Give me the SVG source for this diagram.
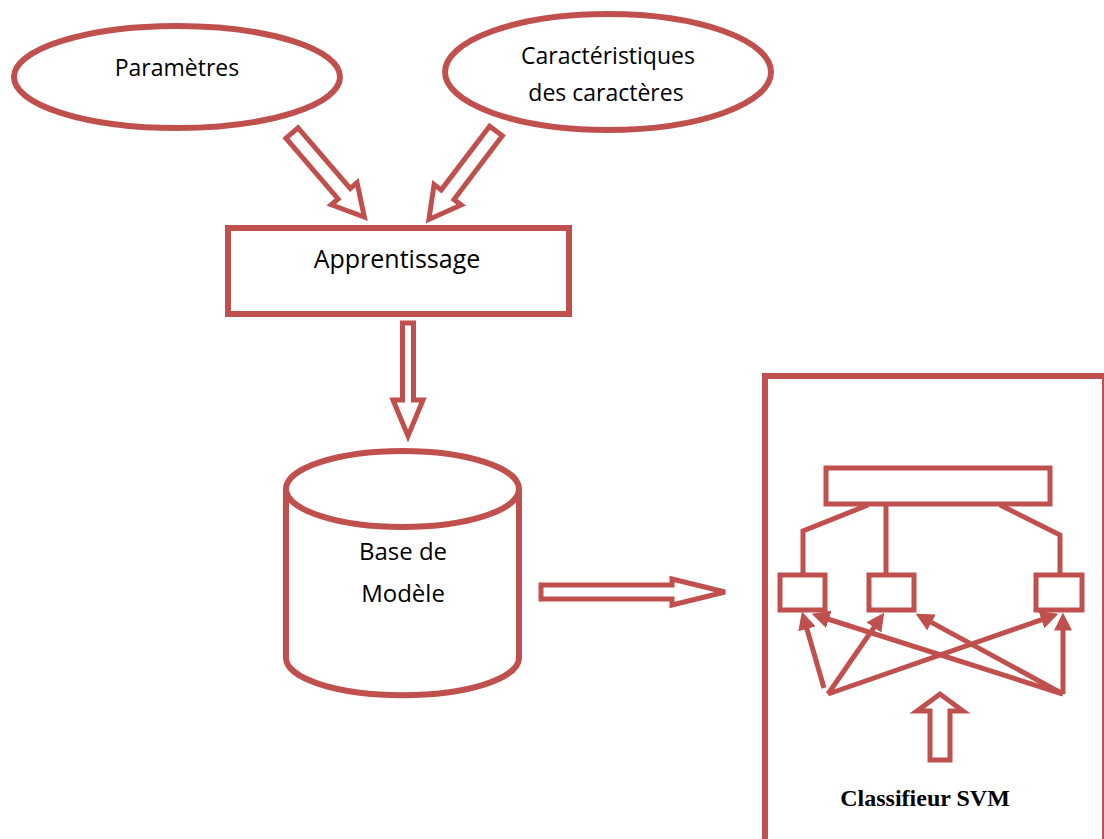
<svg xmlns="http://www.w3.org/2000/svg" width="1104" height="839" viewBox="0 0 1104 839">
  <style>
    .shape { fill: #FFFFFF; stroke: #C0504D; stroke-width: 6; }
    .block { fill: #FFFFFF; stroke: #C0504D; stroke-width: 5; stroke-linejoin: miter; }
    .wire { fill: none; stroke: #C0504D; stroke-width: 5; }
    .lbl { font-family: "Open Sans", "Liberation Sans", sans-serif; font-size: 23px; fill: #000000; text-anchor: middle; }
    .cap { font-family: "Liberation Serif", "Times New Roman", serif; font-size: 24px; font-weight: bold; fill: #000000; text-anchor: middle; }
  </style>
  <defs>
    <marker id="tri" viewBox="0 0 10 10" refX="7" refY="5" markerWidth="18" markerHeight="18" orient="auto" markerUnits="userSpaceOnUse">
      <path d="M0,0 L10,5 L0,10 z" fill="#C0504D"/>
    </marker>
  </defs>
  <rect width="1104" height="839" fill="#FFFFFF"/>

  <!-- input ellipses -->
  <g id="parametres">
    <ellipse class="shape" cx="177" cy="77" rx="163" ry="51"/>
    <text class="lbl" x="177" y="76">Paramètres</text>
  </g>
  <g id="caracteristiques">
    <ellipse class="shape" cx="608" cy="72" rx="163" ry="58"/>
    <text class="lbl" x="608" y="64">Caractéristiques</text>
    <text class="lbl" x="606" y="101">des caractères</text>
  </g>

  <!-- learning step -->
  <g id="apprentissage">
    <rect class="shape" x="228" y="228" width="341" height="86"/>
    <text class="lbl" x="397" y="268" style="font-size:25px">Apprentissage</text>
  </g>

  <!-- model store -->
  <g id="base-modele">
    <path class="shape" d="M286,489 L286,658 A116,37 0 0 0 519,658 L519,489"/>
    <ellipse class="shape" cx="402.5" cy="489" rx="116.5" ry="38"/>
    <text class="lbl" x="403" y="560" style="font-size:24px">Base de</text>
    <text class="lbl" x="403" y="602" style="font-size:24px">Modèle</text>
  </g>

  <!-- classifier panel -->
  <g id="classifieur-svm">
    <rect class="shape" x="765" y="376" width="340" height="500"/>
    <rect class="wire" x="826" y="468" width="224" height="36"/>
    <rect class="wire" x="780" y="575" width="45" height="35"/>
    <rect class="wire" x="869" y="575" width="45" height="35"/>
    <rect class="wire" x="1036" y="575" width="46" height="35"/>
    <polyline class="wire" points="868,505 803,531 803,575"/>
    <line class="wire" x1="886" y1="505" x2="886" y2="575"/>
    <polyline class="wire" points="1000,505 1060,535 1060,575"/>
    <g class="wire" marker-end="url(#tri)">
      <line x1="824" y1="688" x2="803.4" y2="616.8"/>
      <line x1="828" y1="694" x2="881.1" y2="617.1"/>
      <line x1="828" y1="694" x2="1053.3" y2="615.6"/>
      <line x1="1063" y1="694" x2="816.8" y2="615.5"/>
      <line x1="1063" y1="694" x2="920.4" y2="616.4"/>
      <line x1="1063" y1="694" x2="1063" y2="618"/>
    </g>
    <path class="block" transform="translate(940,760) rotate(-90)" d="M0,-10 L49,-10 L49,-23 L66,0 L49,23 L49,10 L0,10 Z"/>
    <text class="cap" x="925" y="806">Classifieur SVM</text>
  </g>

  <!-- block arrows between steps -->
  <g id="connectors">
    <path class="block" transform="translate(292,133) rotate(49.3)" d="M0,-8 L80,-8 L80,-17 L111,0 L80,17 L80,8 L0,8 Z"/>
    <path class="block" transform="translate(496,131) rotate(127.2)" d="M0,-8 L80,-8 L80,-17 L111,0 L80,17 L80,8 L0,8 Z"/>
    <path class="block" transform="translate(408,323) rotate(90)" d="M0,-5.5 L77,-5.5 L77,-15 L113,0 L77,15 L77,5.5 L0,5.5 Z"/>
    <path class="block" transform="translate(541,592)" d="M0,-7 L131,-7 L131,-13 L184,0 L131,13 L131,7 L0,7 Z"/>
  </g>
</svg>
